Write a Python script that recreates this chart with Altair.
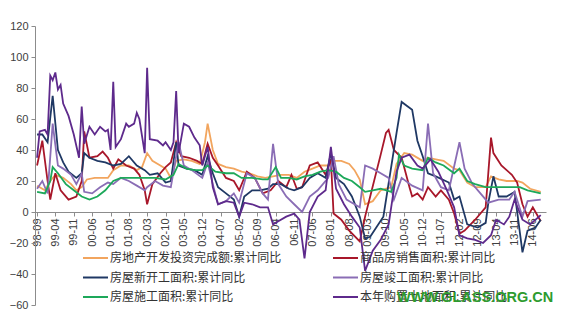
import altair as alt
import pandas as pd

# ---------------- data ----------------
series_names = [
    "房地产开发投资完成额:累计同比",
    "商品房销售面积:累计同比",
    "房屋新开工面积:累计同比",
    "房屋竣工面积:累计同比",
    "房屋施工面积:累计同比",
    "本年购置土地面积:累计同比",
]
series_colors = ["#F2A55E", "#A8172A", "#1F3864", "#8A6DB5", "#1DA85A", "#5E2A8C"]

x_tick_labels = ["98-09", "99-04", "99-11", "00-06", "01-01", "01-08", "02-03", "02-10",
                 "03-05", "03-12", "04-07", "05-02", "05-09", "06-04", "06-11", "07-06",
                 "08-01", "08-08", "09-03", "09-10", "10-05", "10-12", "11-07", "12-02",
                 "12-09", "13-04", "13-11", "14-06"]
y_ticks = [-60, -40, -20, 0, 20, 40, 60, 80, 100, 120]

inv_dates = ["98-09", "98-12", "99-02", "99-04", "99-07", "99-10", "99-12", "00-02", "00-04",
             "00-07", "00-10", "00-12", "01-02", "01-05", "01-08", "01-11", "02-01", "02-03",
             "02-05", "02-08", "02-10", "02-12", "03-02", "03-05", "03-08", "03-11", "04-01",
             "04-02", "04-04", "04-06", "04-09", "04-12", "05-03", "05-06", "05-09", "05-12",
             "06-03", "06-06", "06-09", "06-12", "07-03", "07-06", "07-09", "07-12", "08-02",
             "08-05", "08-08", "08-10", "08-12", "09-02", "09-05", "09-08", "09-12", "10-02",
             "10-05", "10-08", "10-12", "11-02", "11-05", "11-08", "11-12", "12-02", "12-05",
             "12-08", "12-12", "13-02", "13-05", "13-08", "13-12", "14-02", "14-05", "14-09"]
inv_vals = [17, 14, 20, 24, 22, 18, 14, 16, 21,
            22, 22, 22, 27, 30, 30, 27, 29, 38,
            33, 30, 28, 22, 33, 34, 33, 31, 45,
            57, 40, 31, 29, 28, 26, 25, 23, 22,
            23, 24, 24, 22, 26, 28, 30, 30, 33,
            33, 31, 27, 21, 5, 7, 14, 16, 31,
            38, 37, 33, 35, 34, 33, 28, 27, 19,
            16, 16, 23, 21, 20, 20, 19, 15, 13]

sales_dates = ["98-09", "98-11", "99-01", "99-02", "99-04", "99-06", "99-09", "99-12", "00-02",
               "00-03", "00-05", "00-08", "00-10", "00-12", "01-02", "01-04", "01-07", "01-10",
               "01-12", "02-02", "02-03", "02-05", "02-08", "02-10", "02-12", "03-02", "03-04",
               "03-07", "03-10", "03-12", "04-02", "04-04", "04-06", "04-09", "04-12", "05-02",
               "05-05", "05-08", "05-11", "06-02", "06-05", "06-08", "06-10", "06-12", "07-02",
               "07-05", "07-08", "07-11", "08-01", "08-02", "08-05", "08-08", "08-12", "09-02",
               "09-04", "09-08", "09-10", "09-11", "10-01", "10-04", "10-07", "10-08", "10-10",
               "10-12", "11-02", "11-05", "11-07", "11-10", "11-12", "12-02", "12-04", "12-08",
               "12-12", "13-02", "13-03", "13-06", "13-10", "13-12", "14-02", "14-04", "14-06",
               "14-09"]
sales_vals = [30, 46, 20, 8, 25, 14, 8, 10, 20,
              52, 35, 36, 39, 35, 28, 34, 30, 28,
              24, 14, 5, 18, 25, 29, 32, 45, 36,
              35, 33, 31, 44, 35, 30, 22, 20, 14,
              26, 22, 12, 14, 20, 16, 24, 15, 16,
              30, 32, 24, 34, -1, -5, -12, -19, -3,
              10, 37, 51, 53, 40, 35, 16, 10, 12,
              8, 16, 10, 14, 8, -1, -14, -12, -5,
              3, 48, 38, 30, 24, 19, 5, -3, 3,
              -6]

start_dates = ["98-09", "98-11", "99-01", "99-03", "99-05", "99-07", "99-09", "99-12", "00-02",
               "00-03", "00-05", "00-08", "00-11", "01-02", "01-05", "01-08", "01-11", "02-02",
               "02-04", "02-07", "02-10", "02-12", "03-02", "03-03", "03-06", "03-09", "03-12",
               "04-02", "04-04", "04-06", "04-09", "04-12", "05-02", "05-04", "05-07", "05-10",
               "06-01", "06-03", "06-06", "06-09", "06-11", "07-02", "07-05", "07-08", "07-11",
               "08-01", "08-03", "08-06", "08-09", "08-12", "09-02", "09-04", "09-09", "10-02",
               "10-04", "10-08", "10-10", "10-12", "11-02", "11-05", "11-10", "11-12", "12-02",
               "12-05", "12-09", "12-12", "13-01", "13-03", "13-05", "13-08", "13-11", "14-02",
               "14-04", "14-07", "14-09"]
start_vals = [50, 50, 45, 75, 40, 32, 26, 22, 25,
              38, 35, 33, 32, 30, 31, 36, 30, 27,
              24, 25, 19, 20, 45, 30, 28, 27, 24,
              36, 25, 16, 12, 8, -3, 10, 14, 14,
              15, 18, 18, 15, 14, 16, 22, 25, 22,
              38, 22, 18, 10, -3, -17, -16, -3, 51,
              71, 66, 46, 36, 25, 23, 19, 8, 10,
              -8, -10, -7, 6, 23, 10, 10, 13, -26,
              -12, -10, -5]

done_dates = ["98-09", "98-11", "99-01", "99-03", "99-05", "99-07", "99-10", "99-12", "00-02",
              "00-03", "00-06", "00-09", "00-12", "01-02", "01-05", "01-08", "01-11", "02-02",
              "02-03", "02-06", "02-09", "02-12", "03-03", "03-05", "03-08", "03-12", "04-02",
              "04-04", "04-06", "04-09", "04-12", "05-02", "05-05", "05-08", "05-11", "06-01",
              "06-03", "06-05", "06-08", "06-11", "07-02", "07-05", "07-08", "07-12", "08-02",
              "08-04", "08-07", "08-10", "08-12", "09-02", "09-05", "09-08", "09-11", "10-01",
              "10-04", "10-08", "10-12", "11-02", "11-04", "11-07", "11-10", "12-02", "12-04",
              "12-07", "12-10", "13-01", "13-05", "13-09", "13-11", "14-02", "14-04", "14-09"]
done_vals = [15, 20, 12, 57, 30, 28, 24, 18, 25,
             13, 12, 16, 19, 18, 22, 20, 17, 14,
             16, 20, 17, 16, 45, 30, 27, 22, 32,
             18, 5, 7, 12, 6, 25, 22, 12, 8,
             44, 18, 10, 5, 0, 10, 14, 22, 36,
             18, 8, 5, 3, 30, 28, 25, 22, 8,
             22, 17, 14, 57, 25, 16, 14, 45, 28,
             18, 12, 6, 8, 8, 13, -3, 7, 8]

build_dates = ["98-09", "98-12", "99-02", "99-03", "99-05", "99-08", "99-11", "00-02", "00-05",
               "00-08", "00-11", "01-02", "01-05", "01-08", "01-11", "02-03", "02-06", "02-10",
               "03-01", "03-03", "03-06", "03-09", "03-12", "04-02", "04-05", "04-09", "04-12",
               "05-03", "05-07", "05-11", "06-01", "06-04", "06-06", "06-09", "06-12", "07-03",
               "07-06", "07-09", "07-12", "08-03", "08-06", "08-09", "08-12", "09-02", "09-05",
               "09-08", "09-12", "10-02", "10-03", "10-05", "10-08", "10-12", "11-02", "11-05",
               "11-08", "11-12", "12-02", "12-05", "12-08", "12-12", "13-02", "13-06", "13-10",
               "14-01", "14-04", "14-09"]
build_vals = [13, 12, 20, 29, 25, 18, 14, 10, 8,
              10, 14, 20, 22, 22, 22, 22, 22, 21,
              24, 31, 28, 27, 27, 30, 26, 25, 25,
              22, 22, 21, 21, 29, 22, 22, 21, 23,
              24, 26, 27, 26, 22, 20, 16, 13, 14,
              15, 13, 22, 37, 30, 28, 27, 35, 32,
              30, 25, 28, 20, 18, 16, 16, 16, 16,
              16, 14, 12]

land_dates = ["98-09", "98-10", "98-12", "99-01", "99-02", "99-03", "99-04", "99-05", "99-06",
              "99-07", "99-09", "99-11", "00-01", "00-02", "00-03", "00-05", "00-07", "00-09",
              "00-11", "00-12", "01-01", "01-02", "01-03", "01-05", "01-07", "01-08", "01-10",
              "01-11", "01-12", "02-02", "02-03", "02-04", "02-07", "02-09", "02-10", "02-12",
              "03-01", "03-02", "03-03", "03-05", "03-07", "03-09", "03-11", "03-12", "04-02",
              "04-04", "04-06", "04-09", "04-12", "05-02", "05-04", "05-07", "05-10", "06-01",
              "06-03", "06-05", "06-08", "06-11", "07-01", "07-03", "07-05", "07-08", "07-11",
              "08-01", "08-03", "08-06", "08-09", "08-12", "09-02", "09-05", "09-08", "09-11",
              "10-02", "10-04", "10-07", "10-10", "10-12", "11-03", "11-06", "11-09", "11-12",
              "12-02", "12-05", "12-08", "12-11", "13-02", "13-04", "13-07", "13-09", "13-11",
              "14-02", "14-05", "14-09"]
land_vals = [35, 52, 53, 50, 88, 85, 90, 79, 82,
             70, 62, 50, 35, 68, 44, 55, 50, 55,
             52, 53, 40, 84, 42, 47, 57, 55, 57,
             64, 60, 38, 93, 47, 46, 43, 45, 40,
             45, 78, 38, 57, 55, 48, 43, 30, 42,
             16, 5, 7, 6, -3, 6, 5, 3, 3,
             -8, -6, -3, -1, -5, -30, 0, 10, 14,
             42, 15, 5, -3, -10, -38, -25, -18, -8,
             26, 35, 37, 30, 28, 34, 26, 15, 3,
             -15, -17, -18, -20, -15, -5, -8, -3, 8,
             -5, -8, -2]

watermark = "WWW.GLASS.ORG.CN"

# ---------------- build tables ----------------
def to_iso(ym):
    yy, mm = int(ym[:2]), ym[3:]
    year = 1900 + yy if yy > 50 else 2000 + yy
    return f"{year}-{mm}-01T00:00:00"


def to_dt(ym):
    yy, mm = int(ym[:2]), int(ym[3:])
    year = 1900 + yy if yy > 50 else 2000 + yy
    return alt.DateTime(year=year, month=mm, date=1)


all_dates = [inv_dates, sales_dates, start_dates, done_dates, build_dates, land_dates]
all_vals = [inv_vals, sales_vals, start_vals, done_vals, build_vals, land_vals]
rows = []
for name, ds, vs in zip(series_names, all_dates, all_vals):
    for d, v in zip(ds, vs):
        rows.append({"series": name, "date": to_iso(d), "value": v})
df = pd.DataFrame(rows)

# legend layout (pixel positions inside the plot area), 2 columns, row-major
leg_rows = []
for i, name in enumerate(series_names):
    col, row = i % 2, i // 2
    sx = 48 + col * 250
    leg_rows.append({"series": name, "sx": sx, "sx2": sx + 25, "tx": sx + 27,
                     "ly": 232 + row * 19.5})
leg_df = pd.DataFrame(leg_rows)

axis_color = "#8C8C8C"
label_color = "#404040"
color_scale = alt.Scale(domain=series_names, range=series_colors)

lines = alt.Chart(df).mark_line(strokeWidth=1.8).encode(
    x=alt.X(
        "date:T",
        title=None,
        scale=alt.Scale(domain=[alt.DateTime(year=1998, month=8, date=8),
                                alt.DateTime(year=2014, month=11, date=1)]),
        axis=alt.Axis(
            values=[to_dt(t) for t in x_tick_labels],
            format="%y-%m",
            labelAngle=270,
            labelAlign="right",
            labelBaseline="middle",
            labelFont="Liberation Sans",
            labelFontSize=11,
            labelColor=label_color,
            labelPadding=2,
            labelOverlap=False,
            labelFlush=False,
            offset=-93,
            domainColor=axis_color,
            tickColor=axis_color,
            tickSize=4,
            grid=False,
        ),
    ),
    y=alt.Y(
        "value:Q",
        title=None,
        scale=alt.Scale(domain=[-60, 120], nice=False, zero=False),
        axis=alt.Axis(
            values=y_ticks,
            labelFont="Liberation Sans",
            labelFontSize=11,
            labelColor=label_color,
            labelPadding=3,
            domainColor=axis_color,
            tickColor=axis_color,
            tickSize=4,
            grid=False,
        ),
    ),
    color=alt.Color("series:N", scale=color_scale, legend=None),
    detail="series:N",
)

leg_lines = alt.Chart(leg_df).mark_rule(strokeWidth=2).encode(
    x=alt.X("sx:Q", scale=None, axis=None),
    x2="sx2:Q",
    y=alt.Y("ly:Q", scale=None, axis=None),
    color=alt.Color("series:N", scale=color_scale, legend=None),
)

leg_text = alt.Chart(leg_df).mark_text(
    font="Noto Sans CJK SC", fontSize=12, color="#333333", align="left", baseline="middle"
).encode(
    x=alt.X("tx:Q", scale=None, axis=None),
    y=alt.Y("ly:Q", scale=None, axis=None),
    text="series:N",
)

wm = alt.Chart(pd.DataFrame({"t": [watermark]})).mark_text(
    font="Liberation Sans", fontSize=14.5, fontWeight="bold", color="#2E9B2E",
    align="left", baseline="alphabetic"
).encode(text="t:N", x=alt.value(362), y=alt.value(276))

chart = alt.layer(lines, leg_lines, leg_text, wm).resolve_scale(
    x="independent", y="independent"
).properties(
    width=511,
    height=279,
    padding={"left": 35, "top": 26, "right": 19, "bottom": 14},
    autosize=alt.AutoSizeParams(type="none"),
    background="white",
).configure_view(stroke=None)

chart.save("out.html", embed_options={"renderer": "svg", "actions": False})
